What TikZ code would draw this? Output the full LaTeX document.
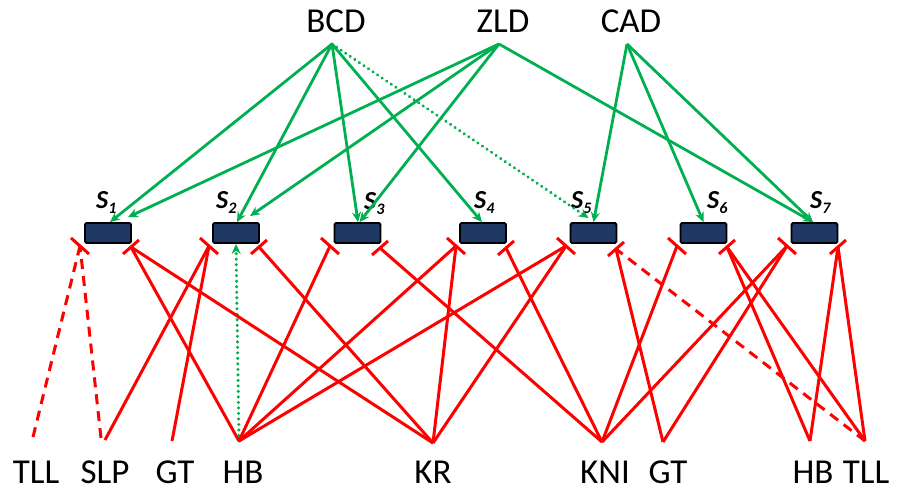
\documentclass[tikz,border=0pt]{standalone}
\usepackage{fontspec}
\setmainfont{Carlito}
\usetikzlibrary{arrows.meta}
\definecolor{navy}{RGB}{31,56,100}
\definecolor{grn}{RGB}{0,176,80}
\definecolor{rd}{RGB}{255,0,0}
\begin{document}
\begin{tikzpicture}[x=1pt,y=-1pt,
  lbl/.style={font=\fontsize{35}{40}\selectfont, inner sep=0pt},
  sbox/.style={draw=black, line width=1.8pt, fill=navy, rounded corners=1.5pt,
    minimum width=46pt, minimum height=20pt, inner sep=0pt},
  slbl/.style={font=\fontsize{26}{28}\selectfont\bfseries\itshape, inner sep=0pt, anchor=base west},
  act/.style={draw=grn, line width=2.8pt, -{Stealth[length=10pt,width=9pt]}},
  actdot/.style={act, dash pattern=on 0.01pt off 5.5pt, line cap=round, line width=3.4pt},
  inh/.style={draw=rd, line width=3pt},
  inhdash/.style={inh, dash pattern=on 10pt off 7pt},
  tbar/.style={draw=rd, line width=3pt}
]
\useasboundingbox (0,0) rectangle (897,493);

% top regulators
\node[lbl] (bcd) at (336,21) {BCD};
\node[lbl] (zld) at (503,21) {ZLD};
\node[lbl] (cad) at (631,21) {CAD};
\coordinate (bcdA) at (332,44);
\coordinate (zldA) at (499,44);
\coordinate (cadA) at (627,44);

% stripe boxes
\node[sbox] (s1) at (108,233) {};
\node[sbox] (s2) at (236,233) {};
\node[sbox] (s3) at (357.5,233) {};
\node[sbox] (s4) at (483,233) {};
\node[sbox] (s5) at (593.5,233) {};
\node[sbox] (s6) at (703.5,233) {};
\node[sbox] (s7) at (814.5,233) {};

\newcommand{\stripe}[1]{S\raisebox{-0.22em}{\fontsize{16}{16}\selectfont #1}}
\node[slbl] (l1) at (96,208) {\stripe{1}};
\node[slbl] (l2) at (216,208) {\stripe{2}};
\node[slbl] (l3) at (364,209) {\stripe{3}};
\node[slbl] (l4) at (474,208) {\stripe{4}};
\node[slbl] (l5) at (571,208) {\stripe{5}};
\node[slbl] (l6) at (707,208) {\stripe{6}};
\node[slbl] (l7) at (810,208) {\stripe{7}};

% bottom regulators
\node[lbl] (tllA) at (36,472) {TLL};
\node[lbl] (slp) at (105,472) {SLP};
\node[lbl] (gtA) at (175,472) {GT};
\node[lbl] (hbA) at (243,472) {HB};
\node[lbl] (kr) at (433,472) {KR};
\node[lbl] (kni) at (605,472) {KNI};
\node[lbl] (gtB) at (668,472) {GT};
\node[lbl] (hbB) at (813,472) {HB};
\node[lbl] (tllB) at (866,472) {TLL};

\coordinate (pt1) at (33,437);
\coordinate (pslpD) at (101,438);
\coordinate (pslpS) at (105,440);
\coordinate (pgt1) at (172,441);
\coordinate (phb1) at (239,441);
\coordinate (pkr) at (433,443);
\coordinate (pkni) at (602,442);
\coordinate (pgt2) at (663,442);
\coordinate (phb2) at (810,441);
\coordinate (pt2) at (865,441);

% inhibition bar points
\coordinate (b1l) at (80,246);
\coordinate (b1r) at (131,247);
\coordinate (b2l) at (209,246);
\coordinate (b2r) at (259,247);
\coordinate (b3l) at (330,246);
\coordinate (b3r) at (380,248);
\coordinate (b4l) at (456,246);
\coordinate (b4r) at (506,248);
\coordinate (b5l) at (566,246);
\coordinate (b5r) at (616,249);
\coordinate (b6l) at (677,246);
\coordinate (b6r) at (727,247);
\coordinate (b7l) at (787,246);
\coordinate (b7r) at (838,247);

% green activations
\draw[act] (bcdA) -- ([xshift=2pt]s1.north);
\draw[act] (zldA) -- ([xshift=20pt,yshift=5pt]s1.north);
\draw[act] (bcdA) -- ([xshift=1pt]s2.north);
\draw[act] (zldA) -- ([xshift=14pt,yshift=6pt]s2.north);
\draw[act] (bcdA) -- ([xshift=0.5pt]s3.north);
\draw[act] (zldA) -- ([xshift=2pt]s3.north);
\draw[act] (bcdA) -- ([xshift=-1pt]s4.north);
\draw[actdot] (bcdA) -- ([xshift=-5pt,yshift=4pt]s5.north);
\draw[act] (cadA) -- (s5.north);
\draw[act] (cadA) -- (s6.north);
\draw[act] (zldA) -- ([xshift=-1.5pt]s7.north);
\draw[act] (cadA) -- ([xshift=-1.5pt]s7.north);
\draw[actdot] (phb1) -- (s2.south);

% red repressions
\draw[inhdash] (pt1) -- (b1l);
\draw[inhdash] (pslpD) -- (b1l);
\draw[inh] (pslpS) -- (b2l);
\draw[inh] (pgt1) -- (b2l);
\foreach \t in {b1r,b3l,b4l,b5l} \draw[inh] (phb1) -- (\t);
\foreach \t in {b1r,b2r,b4l,b5l} \draw[inh] (pkr) -- (\t);
\foreach \t in {b3r,b4r,b6l,b7l} \draw[inh] (pkni) -- (\t);
\foreach \t in {b5r,b7l} \draw[inh] (pgt2) -- (\t);
\foreach \t in {b6r,b7r} \draw[inh] (phb2) -- (\t);
\foreach \t in {b6r,b7r} \draw[inh] (pt2) -- (\t);
\draw[inhdash] (pt2) -- (b5r);

% bars
\foreach \c in {b1l,b2l,b3l,b4l,b5l,b6l,b7l} \draw[tbar] (\c) +(-9,-8) -- +(9,8);
\foreach \c in {b1r,b2r,b3r,b4r,b5r,b6r,b7r} \draw[tbar] (\c) +(-8,7) -- +(8,-7);
\end{tikzpicture}
\end{document}
